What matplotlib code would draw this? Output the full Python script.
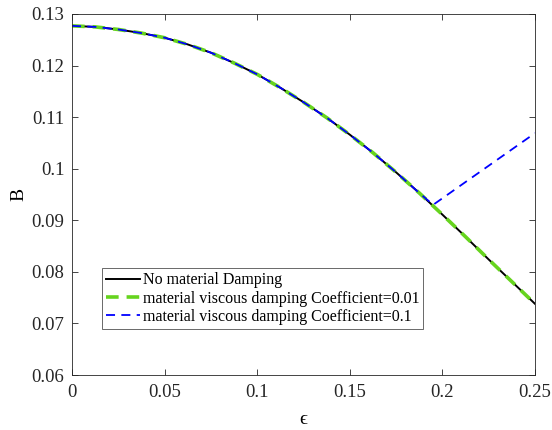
import matplotlib
matplotlib.use("Agg")
import matplotlib.pyplot as plt

plt.rcParams['font.family'] = ['Liberation Serif', 'DejaVu Serif']

# epsilon samples and the amplitude B without material damping
eps = [0.0, 0.0125, 0.025, 0.0375, 0.05, 0.0625, 0.075, 0.0875, 0.1, 0.1125,
       0.125, 0.1375, 0.15, 0.1625, 0.175, 0.1875, 0.2, 0.2125, 0.225, 0.2375, 0.25]
B_none = [0.1277, 0.1275, 0.1270, 0.1263, 0.1254, 0.1241, 0.1225, 0.1205, 0.1183,
          0.1157, 0.1129, 0.1099, 0.1066, 0.1031, 0.0993, 0.0953, 0.0911, 0.0868,
          0.0824, 0.0781, 0.0738]
# viscous damping coefficient 0.01
B_c001 = list(B_none)
# viscous damping coefficient 0.1 (departs from the undamped branch near 0.195)
eps_c01 = eps[:16] + [0.195, 0.25]
B_c01 = B_none[:16] + [0.0930, 0.1069]

labels = ['No material Damping',
          'material viscous damping Coefficient=0.01',
          'material viscous damping Coefficient=0.1']

fig = plt.figure(figsize=(5.52, 4.30), dpi=100)
ax = fig.add_axes([72 / 552, 1 - 375 / 430, 463 / 552, 361 / 430])

ax.plot(eps, B_none, color='black', lw=1.4, label=labels[0])
ax.plot(eps, B_c001, color='#66d41e', lw=2.6, ls=(0, (3.5, 2.2)), label=labels[1])
ax.plot(eps_c01, B_c01, color='#0000ff', lw=1.3, ls=(0, (5, 3.5)), label=labels[2])

ax.set_xlim(0, 0.25)
ax.set_ylim(0.06, 0.13)
ax.set_xticks([0, 0.05, 0.1, 0.15, 0.2, 0.25])
ax.set_xticklabels(['0', '0.05', '0.1', '0.15', '0.2', '0.25'])
ax.set_yticks([0.06, 0.07, 0.08, 0.09, 0.1, 0.11, 0.12, 0.13])
ax.set_yticklabels(['0.06', '0.07', '0.08', '0.09', '0.1', '0.11', '0.12', '0.13'])
ax.tick_params(direction='in', length=4, width=0.6, labelsize=13.5, colors='#262626',
               top=True, right=True)
ax.tick_params(axis='x', pad=6.5)
ax.tick_params(axis='y', pad=5.5)
for sp in ax.spines.values():
    sp.set_linewidth(0.6)
    sp.set_color('#262626')

ax.set_xlabel('\u03f5', fontsize=14, labelpad=7)
ax.set_ylabel('B', fontsize=14, labelpad=3)

leg = ax.legend(loc='lower left', bbox_to_anchor=(30 / 463, 46 / 361), fontsize=11.5,
                frameon=True, fancybox=False, edgecolor='#262626',
                borderpad=0.25, labelspacing=0.15, handlelength=2.1,
                handletextpad=0.2, borderaxespad=0)
leg.get_frame().set_linewidth(0.6)

fig.savefig('out.png', dpi=100)
